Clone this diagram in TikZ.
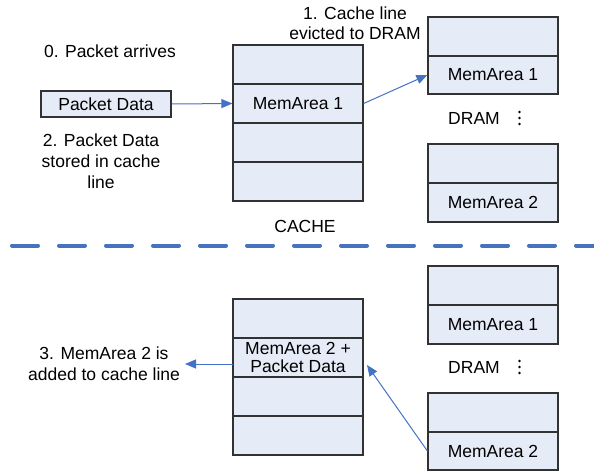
\documentclass[tikz,border=0pt]{standalone}
\usepackage{fontspec}
\setmainfont{Liberation Sans}
\usetikzlibrary{arrows.meta,calc}
\definecolor{cellfill}{RGB}{230,236,247}
\definecolor{cellline}{RGB}{50,50,50}
\definecolor{arrowblue}{RGB}{68,114,196}
\definecolor{dashblue}{RGB}{70,115,190}
\tikzset{
  cell/.style={draw=cellline,line width=1.2pt,fill=cellfill,minimum width=130pt,minimum height=39pt,inner sep=0pt,font=\fontsize{17.5pt}{18pt}\selectfont,align=center},
  lbl/.style={font=\fontsize{17.5pt}{21pt}\selectfont,align=center,inner sep=0pt},
  flow/.style={draw=arrowblue,line width=1pt,-{Triangle[length=11pt,width=9pt]}},
  dot/.style={fill=black,circle,inner sep=0pt,minimum size=2.6pt}
}
\begin{document}
\begin{tikzpicture}[x=1pt,y=-1pt]
\useasboundingbox (0,0) rectangle (594,471);
% ---- top half ----
\node[lbl] (t0) at (110,51) {0. Packet arrives};
\node[cell,minimum height=26pt] (pd) at (106,104) {Packet Data};
\node[lbl] (t2) at (101,161) {2. Packet Data\\stored in cache\\line};
\node[lbl,font=\fontsize{17.5pt}{20.5pt}\selectfont] (t1) at (355,23) {1. Cache line\\evicted to DRAM};
\node[cell] (c1) at (298,64.5) {};
\node[cell] (c2) at (298,103.5) {MemArea 1};
\node[cell] (c3) at (298,142.5) {};
\node[cell] (c4) at (298,181.5) {};
\node[lbl] (cache) at (305,226) {CACHE};
\node[cell] (d1a) at (493,36.5) {};
\node[cell,minimum height=38pt] (d1b) at (493,75) {MemArea 1};
\node[lbl] (dram1) at (474,118) {DRAM};
\node[dot] (p1) at (519.5,112) {};
\node[dot] (p2) at (519.5,118) {};
\node[dot] (p3) at (519.5,124) {};
\node[cell] (d2a) at (493,163.5) {};
\node[cell] (d2b) at (493,202.5) {MemArea 2};
\draw[flow] (pd.east) -- (c2.west);
\draw[flow] (c2.east) -- (d1b.west);
% ---- divider ----
\coordinate (sl) at (12,245.5);
\coordinate (sr) at (600,245.5);
\draw[dashblue,line width=4pt,line cap=round,dash pattern=on 26pt off 21pt] (sl) -- (sr);
% ---- bottom half ----
\node[cell] (b1) at (298,318.5) {};
\node[cell] (b2) at (298,357.5) {MemArea 2 +\\Packet Data};
\node[cell] (b3) at (298,396.5) {};
\node[cell] (b4) at (298,435.5) {};
\node[lbl] (t3) at (104,363.5) {3. MemArea 2 is\\added to cache line};
\coordinate (t3tip) at (185,364);
\coordinate (b2w) at (233,364);
\draw[flow] (b2w) -- (t3tip);
\node[cell] (e1a) at (493,285.5) {};
\node[cell] (e1b) at (493,324.5) {MemArea 1};
\node[lbl] (dram2) at (474,367) {DRAM};
\node[dot] (q1) at (519.5,361) {};
\node[dot] (q2) at (519.5,367) {};
\node[dot] (q3) at (519.5,373) {};
\node[cell] (e2a) at (493,412.5) {};
\node[cell,minimum height=38pt] (e2b) at (493,451) {MemArea 2};
\coordinate (b2tip) at (367,365);
\draw[flow] (e2b.west) -- (b2tip);
\end{tikzpicture}
\end{document}
